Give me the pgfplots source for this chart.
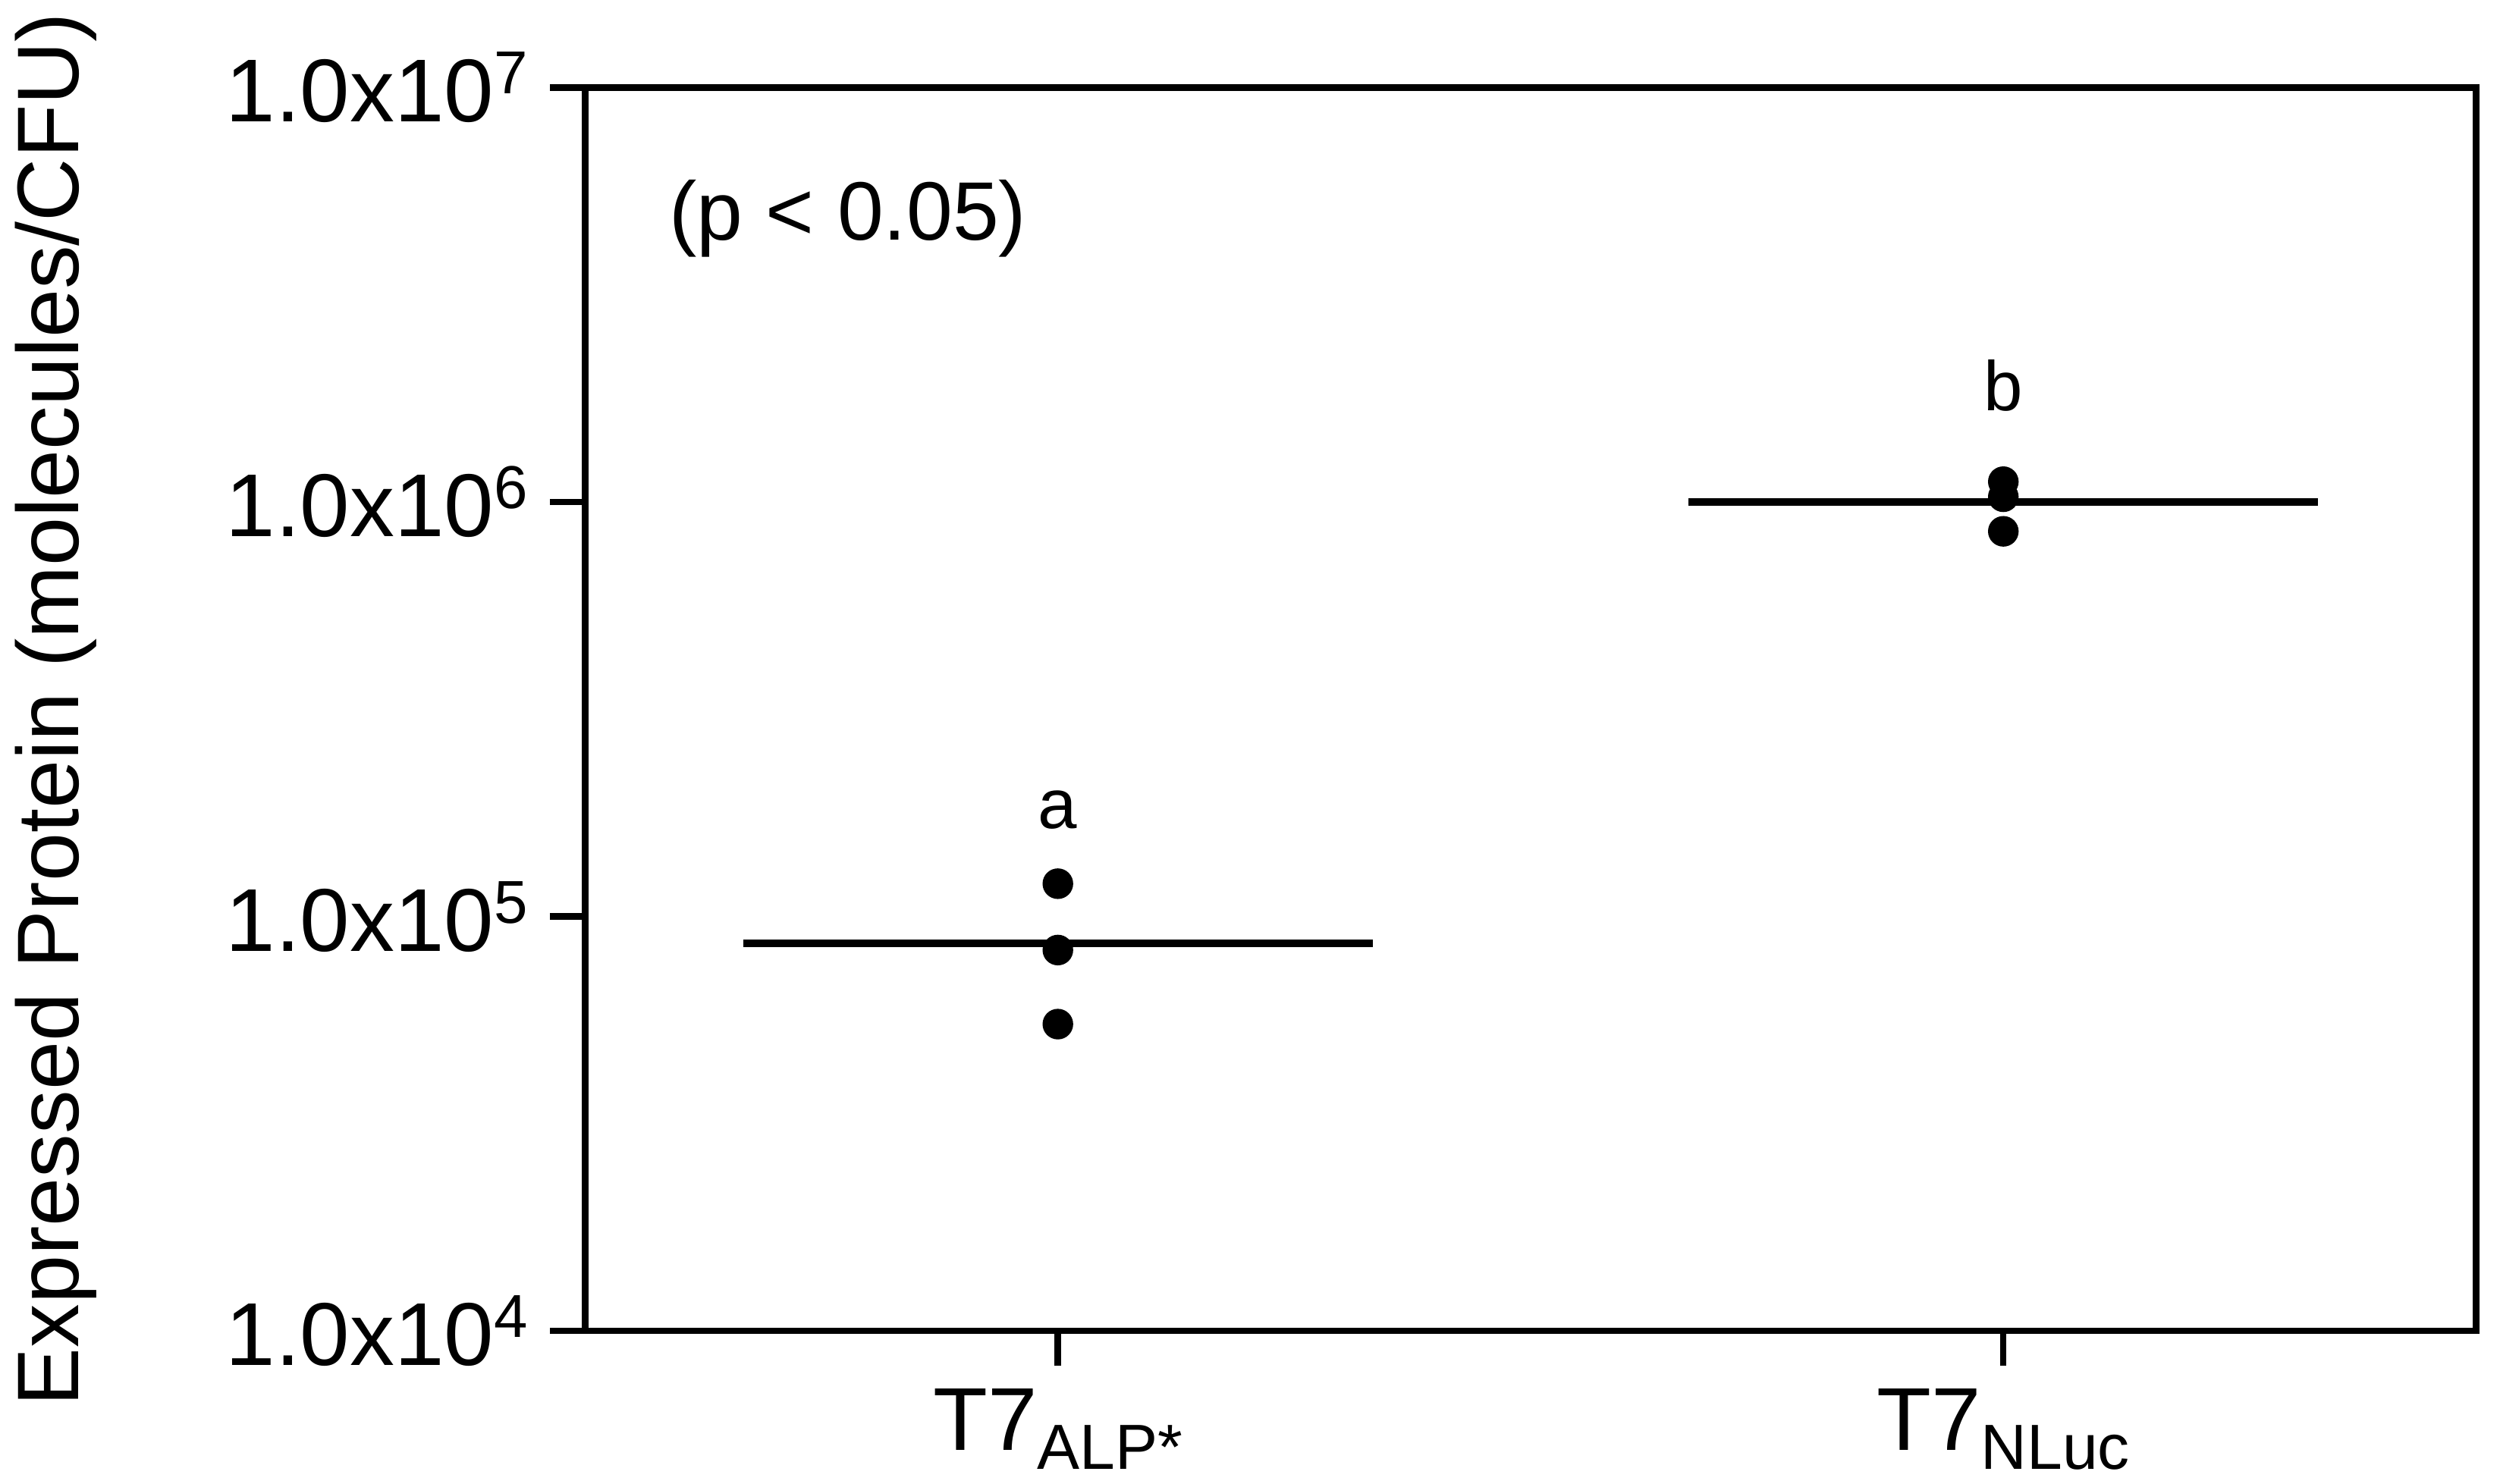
\documentclass[border=0pt]{standalone}
\usepackage{fontspec}
\setmainfont{Liberation Sans}
\usepackage{pgfplots}
\pgfplotsset{compat=1.18}
\newcommand{\mysub}[1]{\raisebox{-3pt}{\fontsize{10}{12}\selectfont #1}}
\newcommand{\mysup}[1]{\raisebox{4.4pt}{\fontsize{9.5}{11}\selectfont #1}}
\begin{document}
\begin{tikzpicture}
\begin{axis}[
  name=ax,
  scale only axis, width=296.5pt, height=195pt,
  ymode=log, ymin=1e4, ymax=1e7,
  xmin=-0.5, xmax=1.5,
  xtick={0,1},
  xticklabels={T7\mysub{ALP*}, T7\mysub{NLuc}},
  ytick={1e4,1e5,1e6,1e7},
  yticklabels={1.0x10\mysup{4},1.0x10\mysup{5},1.0x10\mysup{6},1.0x10\mysup{7}},
  yminorticks=false,
  tick align=outside, major tick length=5.5pt,
  xtick pos=bottom, ytick pos=left,
  axis line style={line width=1pt},
  every tick/.style={black, line width=1pt},
  tick label style={font=\fontsize{14}{16}\selectfont},
  ylabel={Expressed Protein (molecules/CFU)},
  every axis y label/.style={at={(axis description cs:-0.28,0.5)},rotate=90,anchor=center,font=\fontsize{13.7}{16}\selectfont},
  clip=false,
]
\addplot[only marks, mark=*, mark size=2.2pt, black] coordinates {(0,1.2e5)(0,8.3e4)(0,5.5e4)(1,1.12e6)(1,1.03e6)(1,8.5e5)};
\addplot[black, line width=1.2pt] coordinates {(-0.333,8.6e4)(0.333,8.6e4)};
\addplot[black, line width=1.2pt] coordinates {(0.667,1.0e6)(1.333,1.0e6)};
\node[font=\fontsize{11}{13}\selectfont] at (axis cs:0,1.81e5) {a};
\node[font=\fontsize{11}{13}\selectfont] at (axis cs:1,1.91e6) {b};
\node[font=\fontsize{13}{15}\selectfont] at (axis cs:-0.222,4.84e6) {(p < 0.05)};
\end{axis}
\pgfresetboundingbox
\path[use as bounding box] ([shift={(-91.75pt,-24pt)}]ax.south west) rectangle ([shift={(3.75pt,13.75pt)}]ax.north east);
\end{tikzpicture}
\end{document}
